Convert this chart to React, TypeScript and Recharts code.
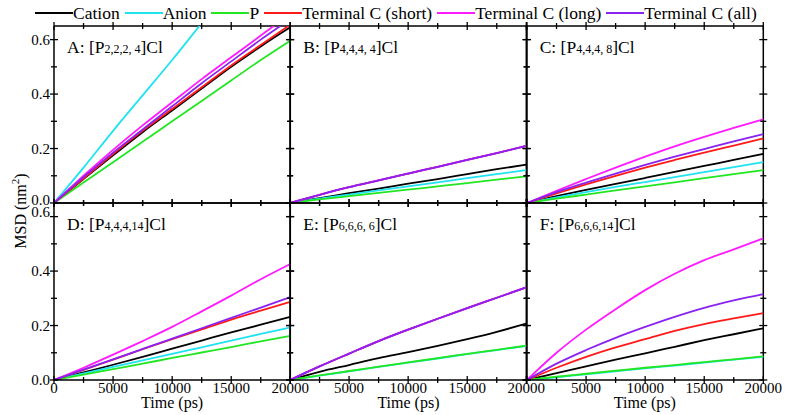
import React from 'react';
import { LineChart, Line, XAxis, YAxis, ReferenceLine } from 'recharts';

// time axis (ps), shared by every panel
const TIME = [0, 2500, 5000, 7500, 10000, 12500, 15000, 17500, 20000];

// MSD (nm^2), one row per panel A..F
const CATION = [
  [0, 0.088, 0.175, 0.26, 0.34, 0.42, 0.5, 0.575, 0.645],
  [0, 0.018, 0.036, 0.053, 0.071, 0.088, 0.106, 0.124, 0.141],
  [0, 0.025, 0.048, 0.07, 0.092, 0.114, 0.136, 0.158, 0.18],
  [0, 0.028, 0.056, 0.085, 0.115, 0.145, 0.175, 0.203, 0.232],
  [0, 0.03, 0.055, 0.08, 0.102, 0.125, 0.15, 0.177, 0.207],
  [0, 0.025, 0.05, 0.075, 0.098, 0.122, 0.146, 0.168, 0.19],
];
const ANION = [
  [0, 0.13, 0.265, 0.395, 0.525, 0.66, 0.79, 0.92, 1.05],
  [0, 0.016, 0.031, 0.046, 0.061, 0.076, 0.091, 0.106, 0.121],
  [0, 0.021, 0.04, 0.059, 0.077, 0.095, 0.113, 0.132, 0.15],
  [0, 0.024, 0.048, 0.072, 0.096, 0.12, 0.145, 0.169, 0.193],
  [0, 0.016, 0.032, 0.048, 0.064, 0.079, 0.095, 0.11, 0.125],
  [0, 0.01, 0.021, 0.032, 0.043, 0.053, 0.064, 0.075, 0.085],
];
const P_ATOM = [
  [0, 0.075, 0.15, 0.225, 0.3, 0.375, 0.45, 0.525, 0.596],
  [0, 0.013, 0.025, 0.037, 0.049, 0.061, 0.073, 0.086, 0.098],
  [0, 0.016, 0.031, 0.046, 0.061, 0.076, 0.091, 0.106, 0.121],
  [0, 0.02, 0.04, 0.06, 0.081, 0.101, 0.121, 0.142, 0.162],
  [0, 0.017, 0.033, 0.049, 0.065, 0.08, 0.096, 0.111, 0.126],
  [0, 0.012, 0.023, 0.034, 0.045, 0.055, 0.066, 0.076, 0.087],
];
const TERM_SHORT = [
  [0, 0.09, 0.18, 0.265, 0.345, 0.425, 0.505, 0.58, 0.655],
  [0, 0.03, 0.058, 0.083, 0.108, 0.133, 0.158, 0.183, 0.21],
  [0, 0.035, 0.068, 0.1, 0.13, 0.158, 0.185, 0.211, 0.237],
  [0, 0.037, 0.075, 0.113, 0.15, 0.186, 0.222, 0.255, 0.287],
  [0, 0.05, 0.097, 0.143, 0.185, 0.225, 0.264, 0.302, 0.34],
  [0, 0.045, 0.085, 0.12, 0.15, 0.18, 0.205, 0.226, 0.246],
];
const TERM_LONG = [
  [0, 0.1, 0.195, 0.285, 0.37, 0.455, 0.535, 0.615, 0.695],
  [0, 0.03, 0.058, 0.083, 0.108, 0.133, 0.158, 0.183, 0.21],
  [0, 0.045, 0.088, 0.13, 0.17, 0.208, 0.243, 0.276, 0.307],
  [0, 0.045, 0.093, 0.143, 0.195, 0.252, 0.31, 0.37, 0.426],
  [0, 0.05, 0.097, 0.143, 0.185, 0.225, 0.264, 0.302, 0.34],
  [0, 0.1, 0.185, 0.26, 0.33, 0.39, 0.44, 0.48, 0.52],
];
const TERM_ALL = [
  [0, 0.095, 0.185, 0.27, 0.355, 0.44, 0.52, 0.6, 0.675],
  [0, 0.03, 0.058, 0.083, 0.108, 0.133, 0.158, 0.183, 0.21],
  [0, 0.04, 0.075, 0.108, 0.14, 0.17, 0.198, 0.226, 0.253],
  [0, 0.038, 0.076, 0.114, 0.152, 0.19, 0.228, 0.266, 0.304],
  [0, 0.05, 0.097, 0.143, 0.185, 0.225, 0.264, 0.302, 0.34],
  [0, 0.06, 0.11, 0.155, 0.195, 0.232, 0.265, 0.292, 0.315],
];

const PANEL_LETTERS = ['A', 'B', 'C', 'D', 'E', 'F'];
const PANEL_SUBS = ['2,2,2, 4', '4,4,4, 4', '4,4,4, 8', '4,4,4,14', '6,6,6, 6', '6,6,6,14'];
const SERIES_NAMES = ['Cation', 'Anion', 'P', 'Terminal C (short)', 'Terminal C (long)', 'Terminal C (all)'];
const SERIES_KEYS = ['cation', 'anion', 'p', 'short', 'long', 'all'];
const SERIES_DATA = [CATION, ANION, P_ATOM, TERM_SHORT, TERM_LONG, TERM_ALL];

const X_TICKS = [0, 2500, 5000, 7500, 10000, 12500, 15000, 17500, 20000];
const Y_TICKS = [0, 0.1, 0.2, 0.3, 0.4, 0.5, 0.6];

const COLORS = ['#000000', '#1fe3f0', '#22e622', '#ff1a1a', '#ff1aff', '#8a22f0'];
const FONT = '"Liberation Serif", "Times New Roman", serif';

// layout
const COL_X = [54, 290.3, 526.7];
const ROW_Y = [26, 203];
const PW = 236.3;
const PH = 177;
const PAD_L = 40;
const PAD_T = 10;
const PAD_R = 25;
const PAD_B = 30;

const makeXTick = (showLabel: boolean, skipZero: boolean) => (props: any) => {
  const { x, y, payload } = props;
  const v = payload.value as number;
  const major = v % 5000 === 0;
  const len = major ? 4 : 3;
  return (
    <g>
      <line x1={x} x2={x} y1={y - len} y2={y + len} stroke="#000" strokeWidth={1.3} />
      <line x1={x} x2={x} y1={y - PH - len} y2={y - PH + len} stroke="#000" strokeWidth={1.3} />
      {showLabel && major && !(skipZero && v === 0) && (
        <text x={x} y={y + 13} textAnchor="middle" fontSize={15} fontFamily={FONT} fill="#000">
          {v}
        </text>
      )}
    </g>
  );
};

const makeYTick = (showLabel: boolean, row: number) => (props: any) => {
  const { x, y, payload } = props;
  const v = payload.value as number;
  const tenth = Math.round(v * 10);
  const major = tenth % 2 === 0;
  const len = major ? 4 : 3;
  let dy = 5;
  if (row === 0 && tenth === 0) dy = 2;
  if (row === 1 && tenth === 6) dy = 0;
  return (
    <g>
      <line x1={x - len} x2={x + len} y1={y} y2={y} stroke="#000" strokeWidth={1.3} />
      <line x1={x + PW - len} x2={x + PW + len} y1={y} y2={y} stroke="#000" strokeWidth={1.3} />
      {showLabel && major && (
        <text x={x - 4} y={y + dy} textAnchor="end" fontSize={15} fontFamily={FONT} fill="#000">
          {v.toFixed(1)}
        </text>
      )}
    </g>
  );
};

function Panel({ idx }: { idx: number }) {
  const row = Math.floor(idx / 3);
  const col = idx % 3;
  const data = TIME.map((t, i) => {
    const pt: Record<string, number> = { t };
    SERIES_KEYS.forEach((k, s) => {
      pt[k] = SERIES_DATA[s][idx][i];
    });
    return pt;
  });

  return (
    <div style={{ position: 'absolute', left: COL_X[col] - PAD_L, top: ROW_Y[row] - PAD_T }}>
      <LineChart
        width={PW + PAD_L + PAD_R}
        height={PH + PAD_T + PAD_B}
        data={data}
        margin={{ top: PAD_T, right: PAD_R, bottom: 0, left: 0 }}
      >
        <XAxis
          dataKey="t"
          type="number"
          domain={[0, 20000]}
          ticks={X_TICKS}
          interval={0}
          height={PAD_B}
          tickSize={0}
          tickMargin={0}
          tickLine={false}
          axisLine={{ stroke: '#000', strokeWidth: 1.5 }}
          tick={makeXTick(row === 1, col > 0)}
        />
        <YAxis
          type="number"
          domain={[0, 0.65]}
          ticks={Y_TICKS}
          interval={0}
          width={PAD_L}
          allowDataOverflow
          tickSize={0}
          tickMargin={0}
          tickLine={false}
          axisLine={{ stroke: '#000', strokeWidth: 1.5 }}
          tick={makeYTick(col === 0, row)}
        />
        <ReferenceLine y={0.65} stroke="#000" strokeWidth={1.5} />
        <ReferenceLine x={20000} stroke="#000" strokeWidth={1.5} />
        {SERIES_KEYS.map((k, s) => (
          <Line
            key={k}
            type="monotone"
            dataKey={k}
            stroke={COLORS[s]}
            strokeWidth={1.8}
            dot={false}
            activeDot={false}
            isAnimationActive={false}
          />
        ))}
      </LineChart>
    </div>
  );
}

function Overlay() {
  return (
    <svg
      width={789}
      height={415}
      style={{ position: 'absolute', left: 0, top: 0, pointerEvents: 'none' }}
      fontFamily={FONT}
    >
      {PANEL_LETTERS.map((letter, i) => {
        const row = Math.floor(i / 3);
        const col = i % 3;
        return (
          <text key={letter} x={COL_X[col] + 13} y={ROW_Y[row] + 27} fontSize={17.5} fill="#000">
            {`${letter}: [P`}
            <tspan fontSize={12}>{PANEL_SUBS[i]}</tspan>
            {']Cl'}
          </text>
        );
      })}
      {COL_X.map((x) => (
        <text key={x} x={x + PW / 2} y={407.5} textAnchor="middle" fontSize={16} fill="#000">
          Time (ps)
        </text>
      ))}
      <text transform="translate(26, 211) rotate(-90)" textAnchor="middle" fontSize={16} fill="#000">
        MSD (nm
        <tspan fontSize={11} dy={-7}>2</tspan>
        <tspan dy={7}>)</tspan>
      </text>
    </svg>
  );
}

function Legend() {
  return (
    <div
      style={{
        position: 'absolute',
        left: 35,
        top: 2,
        display: 'flex',
        alignItems: 'center',
        gap: 5,
        fontFamily: FONT,
        fontSize: 17.5,
        lineHeight: '22px',
        whiteSpace: 'nowrap',
      }}
    >
      {SERIES_NAMES.map((name, s) => (
        <div key={name} style={{ display: 'flex', alignItems: 'center' }}>
          <svg width={38} height={22}>
            <line x1={0} x2={38} y1={11} y2={11} stroke={COLORS[s]} strokeWidth={2} />
          </svg>
          <span>{name}</span>
        </div>
      ))}
    </div>
  );
}

export default function App() {
  return (
    <div
      style={{
        position: 'absolute',
        left: 0,
        top: 0,
        width: 789,
        height: 415,
        background: '#fff',
        overflow: 'hidden',
      }}
    >
      {[0, 1, 2, 3, 4, 5].map((i) => (
        <Panel key={i} idx={i} />
      ))}
      <Overlay />
      <Legend />
    </div>
  );
}
